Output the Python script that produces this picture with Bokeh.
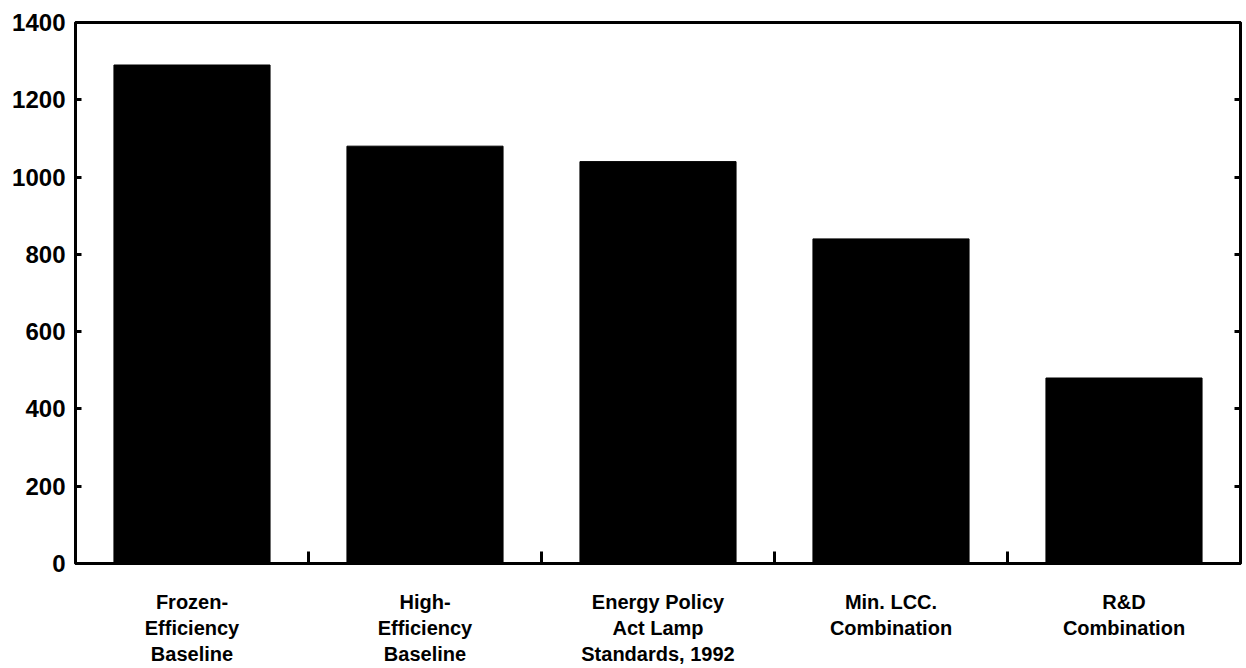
from bokeh.plotting import figure
from bokeh.models import ColumnDataSource, FixedTicker, LinearAxis, Range1d
from bokeh.embed import file_html
from bokeh.resources import INLINE

categories = [
    "Frozen-\nEfficiency\nBaseline",
    "High-\nEfficiency\nBaseline",
    "Energy Policy\nAct Lamp\nStandards, 1992",
    "Min. LCC.\nCombination",
    "R&D\nCombination",
]
values = [1290, 1080, 1040, 840, 480]
y_ticks = [0, 200, 400, 600, 800, 1000, 1200, 1400]

positions = [i + 0.5 for i in range(len(categories))]
boundaries = [i for i in range(1, len(categories))]

src = ColumnDataSource(dict(x=positions, top=values, name=categories))

FONT = "Liberation Sans"

p = figure(
    width=1246, height=668,
    x_range=Range1d(0, len(categories)), y_range=Range1d(0, 1400),
    output_backend="svg", toolbar_location=None,
    min_border_left=75, min_border_right=6, min_border_top=22, min_border_bottom=99,
    x_axis_location=None, y_axis_location=None,
)
p.grid.visible = False
p.background_fill_color = "white"
p.border_fill_color = "white"
p.outline_line_color = "black"
p.outline_line_width = 3

p.vbar(x="x", top="top", width=0.67, source=src, fill_color="black", line_color="black")

# bottom axis: labels at category centers, ticks at category boundaries
xaxis = LinearAxis(
    ticker=FixedTicker(ticks=positions, minor_ticks=boundaries),
    major_label_overrides={pos: cat for pos, cat in zip(positions, categories)},
)
xaxis.axis_line_width = 3
xaxis.axis_line_color = "black"
xaxis.major_tick_line_color = None
xaxis.major_tick_in = 0
xaxis.major_tick_out = 0
xaxis.minor_tick_in = 12
xaxis.minor_tick_out = 0
xaxis.minor_tick_line_width = 3
xaxis.minor_tick_line_color = "black"
xaxis.major_label_standoff = 27
xaxis.major_label_text_font = FONT
xaxis.major_label_text_font_style = "bold"
xaxis.major_label_text_font_size = "20px"
xaxis.major_label_text_color = "black"
xaxis.major_label_text_line_height = 1.2
p.add_layout(xaxis, "below")

yaxis = LinearAxis(ticker=FixedTicker(ticks=y_ticks))
yaxis.axis_line_width = 3
yaxis.major_tick_in = 6
yaxis.major_tick_out = 0
yaxis.major_tick_line_width = 3
yaxis.minor_tick_line_color = None
yaxis.major_label_standoff = 10
yaxis.major_label_text_font = FONT
yaxis.major_label_text_font_style = "bold"
yaxis.major_label_text_font_size = "24px"
yaxis.major_label_text_color = "black"
p.add_layout(yaxis, "left")

yaxis2 = LinearAxis(
    ticker=FixedTicker(ticks=y_ticks),
    major_label_overrides={t: "" for t in y_ticks},
)
yaxis2.axis_line_width = 3
yaxis2.major_tick_in = 6
yaxis2.major_tick_out = 0
yaxis2.major_tick_line_width = 3
yaxis2.minor_tick_line_color = None
yaxis2.major_label_standoff = 0
p.add_layout(yaxis2, "right")

open("out.html", "w").write(file_html(p, INLINE))
